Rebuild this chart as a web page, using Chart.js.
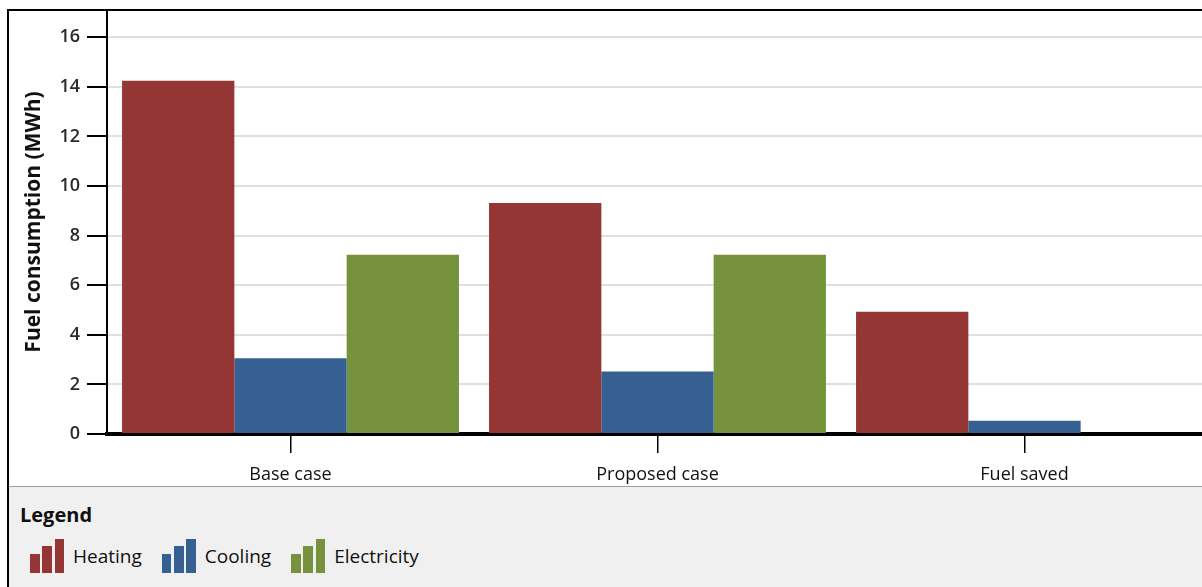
<!DOCTYPE html>
<html>
<head>
<meta charset="utf-8">
<script src="https://cdn.jsdelivr.net/npm/chart.js@4.4.1/dist/chart.umd.min.js"></script>
<style>
  html, body { margin: 0; padding: 0; background: #fff; overflow: hidden; width: 1202px; height: 587px; }
  #frame { position: absolute; left: 7px; top: 9px; width: 1300px; height: 700px;
           border-left: 2px solid #000; border-top: 2px solid #000; box-sizing: border-box; }
  #wrap { position: absolute; left: 0; top: 0; width: 1215px; height: 487px; }
  #legend { position: absolute; left: 9px; top: 486px; width: 1300px; height: 110px;
            background: #f0f0f0; border-top: 1px solid #a0a0a0; font-family: "Open Sans", sans-serif; color: #111; }
  #legend .title { position: absolute; left: 11px; top: 15px; font-weight: bold; font-size: 20px; line-height: 26px; }
  #legend .items { position: absolute; left: 21px; top: 52px; display: flex; align-items: flex-end; }
  #legend .item { display: flex; align-items: center; margin-right: 20px; }
  #legend .icon { width: 34px; height: 34px; display: flex; align-items: flex-end; justify-content: space-between; margin-right: 9px; }
  #legend .icon span { display: block; width: 9.5px; }
  #legend .label { font-size: 19px; line-height: 24px; padding-top: 0px; }
</style>
</head>
<body>
<div id="frame"></div>
<div id="wrap"><canvas id="c"></canvas></div>
<div id="legend"><div class="title">Legend</div><div class="items" id="items"></div></div>
<script>
const categories = ["Base case", "Proposed case", "Fuel saved"];
const heating = [14.25, 9.32, 4.93];
const cooling = [3.05, 2.52, 0.53];
const electricity = [7.23, 7.23, 0];
const seriesNames = ["Heating", "Cooling", "Electricity"];
const seriesColors = ["#943634", "#366092", "#76923c"];
const yTicks = [0, 2, 4, 6, 8, 10, 12, 14, 16];
const yMax = 17.1;

const font = "'Open Sans', sans-serif";

const chart = new Chart(document.getElementById('c'), {
  type: 'bar',
  data: {
    labels: categories,
    datasets: [heating, cooling, electricity].map((d, i) => ({
      label: seriesNames[i],
      data: d,
      backgroundColor: seriesColors[i],
      borderWidth: 0,
      categoryPercentage: 0.918,
      barPercentage: 1.0
    }))
  },
  options: {
    responsive: true,
    maintainAspectRatio: false,
    animation: false,
    layout: { padding: { left: 0, top: 10, right: 7, bottom: 0 } },
    plugins: { legend: { display: false }, tooltip: { enabled: false } },
    scales: {
      x: {
        offset: true,
        grid: { display: true, drawOnChartArea: false, offset: false, tickLength: 19, tickColor: '#000', lineWidth: 1.5 },
        border: { display: true, color: '#000', width: 4 },
        ticks: { color: '#111', font: { family: font, size: 18 }, padding: 11 },
        afterFit: s => { s.height = 53; s.paddingLeft = 0; s.paddingRight = 0; }
      },
      y: {
        min: 0,
        max: yMax,
        afterBuildTicks: s => { s.ticks = yTicks.map(v => ({ value: v })); },
        grid: { color: '#e0e0e0', lineWidth: 2, tickLength: 20, tickColor: '#000', drawTicks: true },
        border: { display: true, color: '#000', width: 2 },
        ticks: { color: '#2a2a2a', font: { family: font, size: 18, weight: '600' }, padding: 7 },
        title: { display: true, text: 'Fuel consumption (MWh)', color: '#111',
                 font: { family: font, size: 21, weight: 'bold' }, padding: { top: 21, bottom: 0 } },
        afterFit: s => { s.width = 107; s.paddingTop = 0; s.paddingBottom = 0; }
      }
    }
  }
});

const items = document.getElementById('items');
chart.data.datasets.forEach(ds => {
  const it = document.createElement('div'); it.className = 'item';
  const ic = document.createElement('div'); ic.className = 'icon';
  [19, 27, 34].forEach(h => { const b = document.createElement('span'); b.style.height = h + 'px'; b.style.background = ds.backgroundColor; ic.appendChild(b); });
  const lb = document.createElement('div'); lb.className = 'label'; lb.textContent = ds.label;
  it.appendChild(ic); it.appendChild(lb); items.appendChild(it);
});
</script>
</body>
</html>
